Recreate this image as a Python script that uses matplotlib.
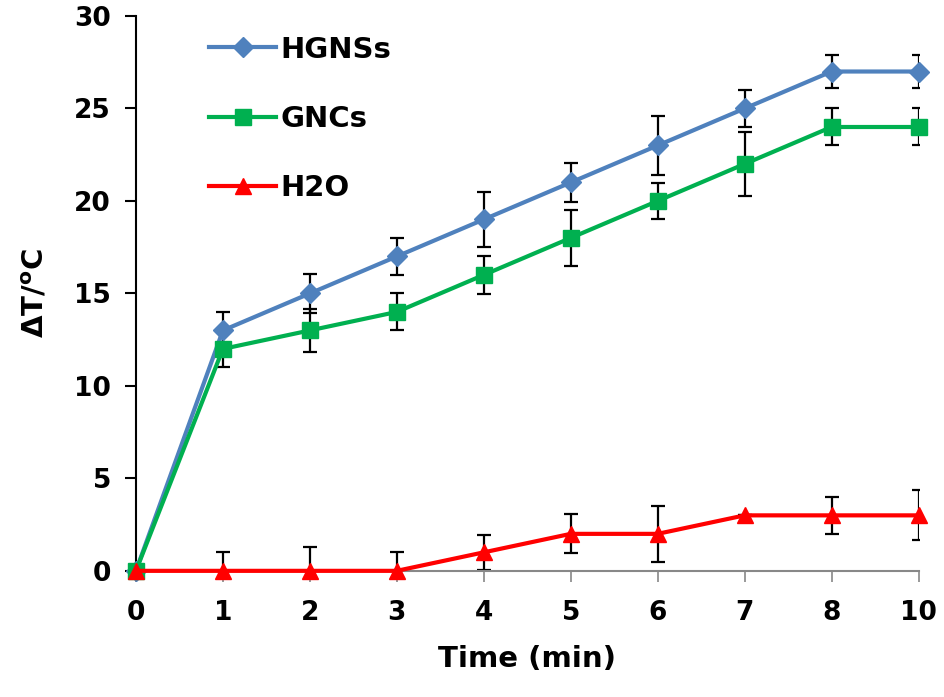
import matplotlib.pyplot as plt
import numpy as np

plt.rc('font', family='DejaVu Sans', weight='bold')

# data
time_labels = ['0', '1', '2', '3', '4', '5', '6', '7', '8', '10']
hgns = [0, 13, 15, 17, 19, 21, 23, 25, 27, 27]
hgns_err = [0, 1.0, 1.05, 1.0, 1.5, 1.05, 1.6, 1.0, 0.9, 0.9]
gncs = [0, 12, 13, 14, 16, 18, 20, 22, 24, 24]
gncs_err = [0, 1.0, 1.15, 1.0, 1.05, 1.5, 0.95, 1.75, 1.0, 1.0]
h2o = [0, 0, 0, 0, 1, 2, 2, 3, 3, 3]
h2o_err = [0, 1.0, 1.3, 1.0, 0.95, 1.05, 1.5, 0.0, 1.0, 1.35]

x = np.arange(len(time_labels))

fig = plt.figure(figsize=(9.44, 6.97), dpi=100)
ax = fig.add_axes([0.144, 0.181, 0.829, 0.796])

series = [
    (hgns, hgns_err, '#4F81BD', 'D', 10, 'HGNSs'),
    (gncs, gncs_err, '#00B050', 's', 12, 'GNCs'),
    (h2o, h2o_err, '#FF0000', '^', 12, 'H2O'),
]
for y, e, c, m, ms, lab in series:
    ax.errorbar(x, y, yerr=e, fmt='none', ecolor='black', elinewidth=1.6,
                capsize=5, capthick=1.6, zorder=2)
    ax.plot(x, y, color=c, marker=m, markersize=ms, linewidth=3,
            label=lab, zorder=3, clip_on=False)

ax.set_xlim(0, 9)
ax.set_ylim(0, 30)
ax.set_yticks(range(0, 31, 5))
ax.set_xticks(x)
ax.set_xticklabels(time_labels)

ax.spines['top'].set_visible(False)
ax.spines['right'].set_visible(False)
ax.spines['left'].set_linewidth(1.5)
ax.spines['bottom'].set_color('#888888')
ax.spines['bottom'].set_linewidth(1.5)
ax.tick_params(axis='y', direction='out', length=8, width=1.5, labelsize=19, pad=10)
ax.tick_params(axis='x', direction='out', length=8, width=1.2, color='#888888',
               labelsize=19, pad=13)

ax.set_xlabel('Time (min)', fontsize=21, fontweight='bold', labelpad=14)
ax.set_ylabel('ΔT/$^{\\mathregular{o}}$C', fontsize=21, fontweight='bold', labelpad=18)

leg = ax.legend(loc='upper left', bbox_to_anchor=(0.06, 1.012), frameon=False,
                fontsize=21, handlelength=2.3, handletextpad=0.15, labelspacing=1.42)

fig.savefig('out.png', dpi=100)
